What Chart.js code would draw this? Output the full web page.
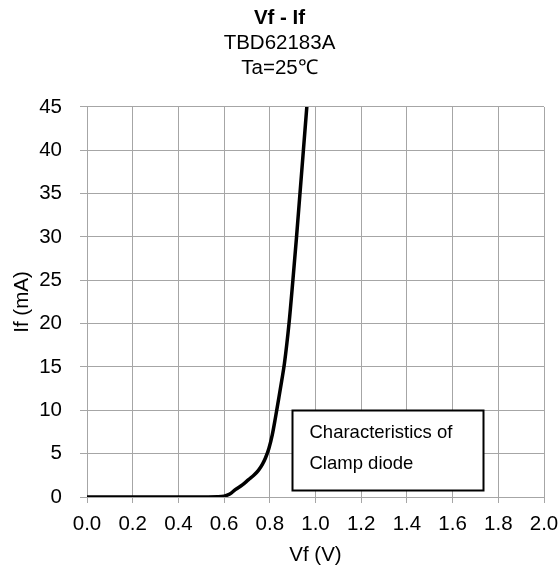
<!DOCTYPE html>
<html>
<head>
<meta charset="utf-8">
<script src="https://cdn.jsdelivr.net/npm/chart.js@4/dist/chart.umd.min.js"></script>
<style>
  html, body { margin: 0; padding: 0; background: #fff; }
  #wrap { width: 559px; height: 572px; }
</style>
</head>
<body>
<div id="wrap"><canvas id="c" width="559" height="572"></canvas></div>
<script>
// ---- data ----
const vfValues = [0.00, 0.30, 0.50, 0.57, 0.60, 0.625, 0.649, 0.68, 0.707, 0.730, 0.751, 0.768, 0.781, 0.796, 0.811, 0.825, 0.840, 0.852, 0.864, 0.884, 0.901, 0.917, 0.932, 0.947, 0.962];
const ifValues = [0.00, 0.00, 0.01, 0.03, 0.10, 0.35, 0.85, 1.40, 2.00, 2.50, 3.10, 3.80, 4.50, 5.60, 7.20, 9.20, 11.5, 13.4, 15.4, 20.0, 25.0, 30.0, 35.0, 40.0, 45.0];
const xTickValues = [0.0, 0.2, 0.4, 0.6, 0.8, 1.0, 1.2, 1.4, 1.6, 1.8, 2.0];
const yTickValues = [0, 5, 10, 15, 20, 25, 30, 35, 40, 45];
const titleText = 'Vf - If';
const subtitleLines = ['TBD62183A', 'Ta=25\u2103'];
const xAxisTitle = 'Vf (V)';
const yAxisTitle = 'If (mA)';
const noteLines = ['Characteristics of', 'Clamp diode'];

const FONT = "'Liberation Sans', Arial, sans-serif";
const GRID = '#a6a6a6';

const points = vfValues.map((v, i) => ({ x: v, y: ifValues[i] }));

const notePlugin = {
  id: 'note',
  afterDatasetsDraw(chart) {
    const { ctx, scales } = chart;
    const x = scales.x, y = scales.y;
    const l = Math.round(x.getPixelForValue(0.895)) + 0.5;
    const r = Math.round(x.getPixelForValue(1.735)) + 0.5;
    const t = Math.round(y.getPixelForValue(10.07)) + 0.5;
    const b = Math.round(y.getPixelForValue(0.8)) + 0.5;
    ctx.save();
    ctx.fillStyle = '#fff';
    ctx.fillRect(l, t, r - l, b - t);
    ctx.strokeStyle = '#000';
    ctx.lineWidth = 2;
    ctx.strokeRect(l, t, r - l, b - t);
    ctx.fillStyle = '#000';
    ctx.font = '18.5px ' + FONT;
    ctx.textBaseline = 'middle';
    ctx.textAlign = 'left';
    ctx.fillText(noteLines[0], l + 17, t + 22);
    ctx.fillText(noteLines[1], l + 17, t + 53);
    ctx.restore();
  }
};

new Chart(document.getElementById('c'), {
  type: 'scatter',
  data: {
    datasets: [{
      data: points,
      showLine: true,
      borderColor: '#000',
      borderWidth: 3.5,
      pointRadius: 0,
      cubicInterpolationMode: 'monotone',
      fill: false
    }]
  },
  options: {
    responsive: false,
    animation: false,
    events: [],
    layout: { padding: { left: 0, right: 0, top: 0, bottom: 0 } },
    plugins: {
      legend: { display: false },
      tooltip: { enabled: false },
      title: {
        display: true,
        text: titleText,
        color: '#000',
        font: { family: FONT, size: 20.5, weight: 'bold', lineHeight: 1.2 },
        padding: { top: 6, bottom: 0 }
      },
      subtitle: {
        display: true,
        text: subtitleLines,
        color: '#000',
        font: { family: FONT, size: 20.5, weight: 'normal', lineHeight: 1.18 },
        padding: { top: 1, bottom: 27 }
      }
    },
    scales: {
      x: {
        type: 'linear',
        min: 0, max: 2,
        afterBuildTicks(scale) { scale.ticks = xTickValues.map(v => ({ value: v })); },
        afterFit(scale) { scale.height = 572 - 497; scale.paddingRight = 15; scale.paddingLeft = 0; },
        ticks: {
          color: '#000',
          font: { family: FONT, size: 20.5 },
          padding: 9,
          maxRotation: 0,
          autoSkip: false,
          callback: v => Number(v).toFixed(1)
        },
        grid: { color: GRID, lineWidth: 1, tickLength: 6, drawTicks: true },
        border: { color: GRID, width: 1 },
        title: {
          display: true,
          text: xAxisTitle,
          color: '#000',
          font: { family: FONT, size: 20.5 },
          padding: { top: 0, bottom: 4 }
        }
      },
      y: {
        type: 'linear',
        min: 0, max: 45,
        afterBuildTicks(scale) { scale.ticks = yTickValues.map(v => ({ value: v })); },
        afterFit(scale) { scale.width = 87; },
        ticks: {
          color: '#000',
          font: { family: FONT, size: 20.5 },
          padding: 18,
          autoSkip: false
        },
        grid: { color: GRID, lineWidth: 1, tickLength: 7, drawTicks: true },
        border: { color: GRID, width: 1 },
        title: {
          display: true,
          text: yAxisTitle,
          color: '#000',
          font: { family: FONT, size: 20.5 },
          padding: { top: 10, bottom: 0 }
        }
      }
    }
  },
  plugins: [notePlugin]
});
</script>
</body>
</html>
